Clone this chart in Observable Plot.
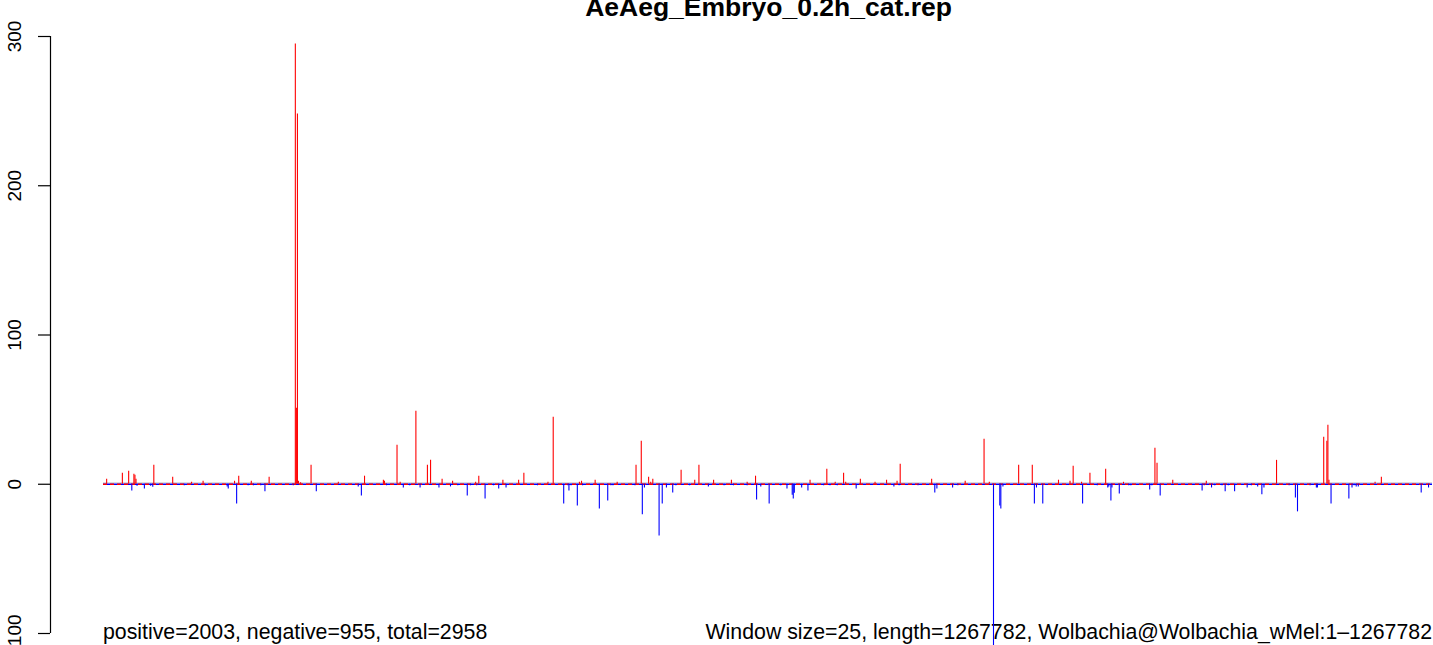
<!DOCTYPE html>
<html>
<head>
<meta charset="utf-8">
<script src="https://cdn.jsdelivr.net/npm/d3@7"></script>
<script src="https://cdn.jsdelivr.net/npm/@observablehq/plot@0.6"></script>
<style>
  html, body { margin: 0; padding: 0; background: #fff; }
  #wrap { position: relative; width: 1433px; height: 645px; overflow: hidden; font-family: "Liberation Sans", Arial, sans-serif; color: #000; }
  #wrap .t { position: absolute; white-space: nowrap; }
  #chart { position: absolute; left: 0; top: 0; }
</style>
</head>
<body>
<div id="wrap">
  <div class="t" id="title" style="left:0;width:1537px;text-align:center;top:-6px;font-size:26.5px;line-height:26.5px;font-weight:bold;"></div>
  <div class="t" id="capL" style="left:103px;top:622px;font-size:21.3px;line-height:21.3px;"></div>
  <div class="t" id="capR" style="right:1px;top:622px;font-size:21.3px;line-height:21.3px;text-align:right;"></div>
  <div id="chart"></div>
</div>
<script>
// ---- data (genome position in kb, window value) ----
const titleText = "AeAeg_Embryo_0.2h_cat.rep";
const captionLeft = "positive=2003, negative=955, total=2958";
const captionRight = "Window size=25, length=1267782, Wolbachia@Wolbachia_wMel:1\u20131267782";
const genomeLengthKb = 1267.782;
const yTicks = [-100, 0, 100, 200, 300];

const posKb  = [3,18,24,29,30,31,48,66,84,95,125,129,141,158,183,184,185,186,188,198,224,249,267,268,280,283,298,309,312,323,333,355,358,381,396,401,424,429,454,456,469,490,508,513,520,522,524,551,564,568,582,599,614,622,674,690,698,706,708,722,736,747,757,760,790,822,840,845,873,886,911,922,925,933,941,956,973,1003,1005,1020,1052,1119,1164,1167,1168,1169,1213,1219];
const posVal = [3.3,7.4,8.7,6.7,6,3.3,12.7,4.7,1.3,2,2,5.4,2,4.7,295,51,248,2,1,12.7,1.3,5.4,2.7,2,26.1,1.3,48.9,12.7,16,3.3,2,1.3,5.4,2.7,2.7,7.4,1.3,44.9,1.3,2,2.7,1.3,12.7,28.8,4.7,1.3,3.3,9.4,2.7,12.7,2.7,2.7,1.3,5.4,2.7,10,1.3,7.4,1.3,3.3,1.3,2.7,2,13.4,3.3,2,30.1,1.3,12.7,12.7,2.7,2,12,1.3,7.4,10,1.3,24.1,14.1,2.7,2,16,31.5,28.8,39.5,2.7,1.3,4.7];

const negKb  = [27,32,39,45,47,77,97,118,119,127,138,143,150,154,181,203,243,246,270,286,292,302,320,331,338,347,350,356,364,372,377,384,414,439,443,444,446,452,457,473,481,484,486,507,514,516,530,533,537,543,546,559,577,592,601,614,623,627,635,646,652,657,658,659,666,672,687,693,700,718,754,759,777,793,795,810,815,849,855,856,858,888,890,896,934,948,958,959,961,962,969,978,980,998,1000,1008,1048,1050,1057,1060,1067,1070,1073,1079,1091,1095,1101,1105,1107,1131,1137,1139,1151,1157,1158,1171,1188,1191,1193,1195,1197,1257,1264];
const negVal = [-4.5,-1.3,-3.1,-1.3,-2,-1,-1,-1.8,-3.1,-13.2,-1,-1,-1,-5.1,-1,-5.1,-1.8,-7.8,-1,-2.5,-1,-2.5,-2.5,-1.8,-1,-7.8,-1,-1,-9.8,-1,-3.1,-2.5,-1,-13.2,-1,-4.5,-1,-14.5,-1,-16.5,-11.2,-1,-1,-1,-20.5,-2.5,-34.6,-13.2,-2.5,-5.8,-1,-1,-1.8,-1,-1,-1,-10.5,-1.8,-13.2,-1,-3.1,-7.4,-9.8,-6,-2.5,-4.5,-1,-1,-1,-3.1,-1.8,-1,-1,-5.8,-3.1,-2.5,-1,-115,-14.5,-16.5,-1.8,-13.2,-2.5,-13.2,-13.2,-1,-2.5,-1.8,-11.2,-2.5,-6.5,-1,-1,-3.8,-1,-7.8,-4.5,-1,-2.5,-1,-1,-5.1,-1,-5.1,-2.5,-1,-1.8,-7.1,-2.5,-1,-9.2,-18.5,-1,-2.5,-2.5,-13.2,-9.8,-2.5,-1,-1.8,-1.8,-5.8,-2.5];

// ---- build ----
const pos = posKb.map((k, i) => ({kb: k, v: posVal[i]}));
const neg = negKb.map((k, i) => ({kb: k, v: negVal[i]}));

document.getElementById("title").textContent = titleText;
document.getElementById("capL").textContent = captionLeft;
document.getElementById("capR").textContent = captionRight;

const chart = Plot.plot({
  width: 1433,
  height: 645,
  marginLeft: 103,
  marginRight: 1,
  marginTop: 36,
  marginBottom: 12,
  style: {background: "transparent", overflow: "hidden", fontFamily: "'Liberation Sans', Arial, sans-serif", color: "#000"},
  x: {domain: [0, genomeLengthKb], axis: null},
  y: {domain: [-100, 300], axis: null},
  marks: [
    Plot.ruleY([0], {stroke: "#cfcfcf", strokeWidth: 1.2, dy: -1.5}),
    Plot.ruleY([0], {stroke: "blue", strokeWidth: 1.6}),
    Plot.ruleY([0], {stroke: "red", strokeWidth: 1.6, strokeDasharray: "4,3"}),
    Plot.ruleX(neg, {x: "kb", y1: 0, y2: "v", stroke: "blue", strokeWidth: 1.1}),
    Plot.ruleX(pos, {x: "kb", y1: 0, y2: "v", stroke: "red", strokeWidth: 1.1}),
    // y axis (R style, offset to the left of the plotting region)
    Plot.ruleX([0], {x: d => d, y1: yTicks[0], y2: yTicks[yTicks.length - 1], dx: -53, stroke: "black", strokeWidth: 1.2}),
    Plot.axisY({ticks: yTicks, tickSize: 12, dx: -53, label: null, tickFormat: () => "", stroke: "black", strokeWidth: 1.2}),
    Plot.text(yTicks, {y: d => d, text: d => String(d), frameAnchor: "left", textAnchor: "middle", lineAnchor: "middle", dx: -89, rotate: -90, fontSize: 19, fill: "black"})
  ]
});
document.getElementById("chart").appendChild(chart);
</script>
</body>
</html>
